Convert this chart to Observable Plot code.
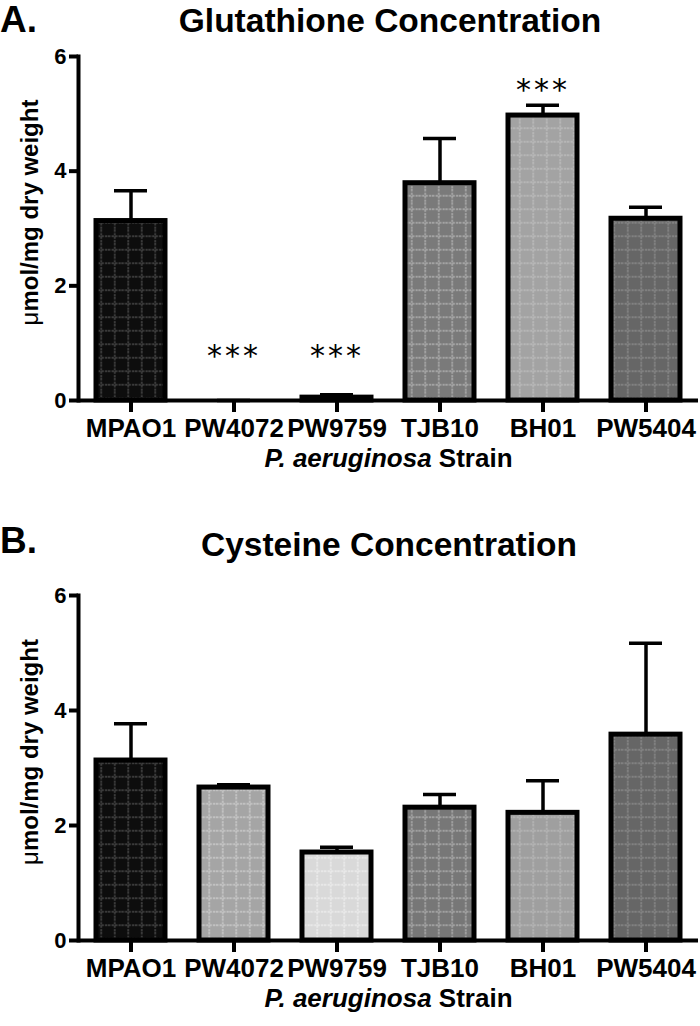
<!DOCTYPE html>
<html><head><meta charset="utf-8">
<script src="https://cdn.jsdelivr.net/npm/d3@7"></script>
<script src="https://cdn.jsdelivr.net/npm/@observablehq/plot@0.6"></script>
<style>
body{margin:0;background:#fff;font-family:"Liberation Sans",Arial,sans-serif;}
.panel{position:relative;width:700px;}
.letter{position:absolute;left:0;font-weight:bold;font-size:37px;line-height:1;}
.title{position:absolute;transform:translateX(-50%);white-space:nowrap;font-weight:bold;font-size:33.5px;line-height:1;}
</style></head><body>
<div id="A" class="panel"><div class="letter" style="top:1px">A.</div><div class="title" style="top:4px;left:390px">Glutathione Concentration</div></div>
<div id="B" class="panel"><div class="letter" style="top:22px">B.</div><div class="title" style="top:28px;left:389px">Cysteine Concentration</div></div>
<script>
const strains = ["MPAO1","PW4072","PW9759","TJB10","BH01","PW5404"];
const gshMean = [3.13, 0, 0.05, 3.79, 4.97, 3.17];
const gshSem  = [0.53, 0, 0.05, 0.78, 0.18, 0.20];
const gshSig  = ["", "***", "***", "", "***", ""];
const gshSigY = [null, 0.9, 0.9, null, 5.53, null];
const cysMean = [3.13, 2.66, 1.53, 2.31, 2.22, 3.58];
const cysSem  = [0.64, 0.05, 0.09, 0.23, 0.56, 1.59];
const yTicks = [0, 2, 4, 6];
const yLabel = "μmol/mg dry weight";
const xLabelItalic = "P. aeruginosa";
const xLabelRest = " Strain";

const topBg   = ["#0d0d0d","#000000","#111111","#7a7a7a","#a3a3a3","#666666"];
const topLine = ["#4a4a4a","#444444","#444444","#b0b0b0","#bdbdbd","#8a8a8a"];
const botBg   = ["#0d0d0d","#a5a5a5","#d9d9d9","#777777","#9f9f9f","#666666"];
const botLine = ["#4a4a4a","#cccccc","#eeeeee","#adadad","#b8b8b8","#8a8a8a"];

const FONT = "Liberation Sans, Arial, sans-serif";

function addPatterns(svg, prefix, bgs, lines) {
  const defs = d3.select(svg).insert("defs", ":first-child");
  const s = 13.5;
  bgs.forEach((bg, i) => {
    const p = defs.append("pattern").attr("id", prefix + i)
      .attr("patternUnits", "userSpaceOnUse").attr("width", s).attr("height", s);
    p.append("rect").attr("width", s).attr("height", s).attr("fill", bg);
    p.append("path").attr("d", `M${s/2},0V${s}M0,${s/2}H${s}`)
      .attr("stroke", lines[i]).attr("stroke-width", 1.4).attr("stroke-dasharray", "2.4,1.1").attr("fill", "none");
  });
}

function panel(id, means, sems, sigs, sigY, bgs, lines, opts) {
  const data = strains.map((s, i) => ({strain: s, v: means[i], e: sems[i], fill: `url(#${id}p${i})`}));
  const sigData = sigs ? strains.map((s, i) => ({strain: s, y: sigY[i], t: sigs[i]})).filter(d => d.t) : [];
  const sigSize = 30;
  const chart = Plot.plot({
    width: 700, height: opts.height,
    marginLeft: 78, marginRight: 2, marginTop: opts.mt, marginBottom: opts.mb,
    x: {domain: strains, paddingInner: 0.33, paddingOuter: 0.165, label: null},
    y: {domain: [0, 6], label: null},
    color: {type: "identity"},
    style: {fontFamily: FONT, color: "#000", background: "#fff", overflow: "visible"},
    marks: [
      Plot.ruleX(data, {x: "strain", y1: "v", y2: d => d.v + d.e, strokeWidth: 3.5}),
      Plot.tickY(data, {x: "strain", y: d => d.v + d.e, strokeWidth: 3.5, insetLeft: 18, insetRight: 18}),
      Plot.barY(data, {x: "strain", y: "v", fill: "fill", stroke: "#000", strokeWidth: 5}),
      Plot.text(sigData, {x: "strain", y: "y", text: "t", fontSize: sigSize, dy: 0.24 * sigSize,
                          fontFamily: "DejaVu Sans, sans-serif", lineAnchor: "middle", className: "sig"}),
      Plot.ruleY([0], {strokeWidth: 4}),
      Plot.frame({anchor: "left", strokeWidth: 4}),
      Plot.axisY({ticks: yTicks, tickFormat: d => String(d), tickSize: 9, strokeWidth: 4, tickPadding: 3,
                  fontSize: 22, fontWeight: "bold", fontFamily: FONT, label: null}),
      Plot.axisX({tickSize: 12, strokeWidth: 4, tickPadding: 6, fontSize: 26, fontWeight: "bold",
                  fontFamily: FONT, label: null}),
      Plot.text([yLabel], {text: d => d, frameAnchor: "left", textAnchor: "middle", dx: -48, dy: opts.ylabDy,
                           rotate: -90, fontSize: 24, fontWeight: "bold", fontFamily: FONT}),
      Plot.text([xLabelItalic + xLabelRest], {text: d => d, frameAnchor: "bottom", textAnchor: "middle", dy: 66,
                                              fontSize: 26, fontWeight: "bold", fontFamily: FONT})
    ]
  });
  addPatterns(chart, id + "p", bgs, lines);
  d3.select(chart).selectAll(".sig text").style("letter-spacing", "3px");
  d3.select(chart).selectAll("text").filter(function() { return this.textContent === xLabelItalic + xLabelRest; })
    .each(function() {
      const t = d3.select(this);
      t.text(null);
      t.append("tspan").attr("font-style", "italic").text(xLabelItalic);
      t.append("tspan").text(xLabelRest);
    });
  d3.select(chart).selectAll("text").filter(function() { return this.textContent === yLabel; })
    .each(function() {
      const t = d3.select(this);
      t.text(null);
      t.append("tspan").attr("font-weight", "normal").text(yLabel.slice(0, 1));
      t.append("tspan").text(yLabel.slice(1));
    });
  document.getElementById(id).appendChild(chart);
}

panel("A", gshMean, gshSem, gshSig, gshSigY, topBg, topLine, {height: 500, mt: 56, mb: 100, ylabDy: -16});
panel("B", cysMean, cysSem, null, null, botBg, botLine, {height: 526, mt: 95, mb: 86, ylabDy: -16});
</script>
</body></html>
